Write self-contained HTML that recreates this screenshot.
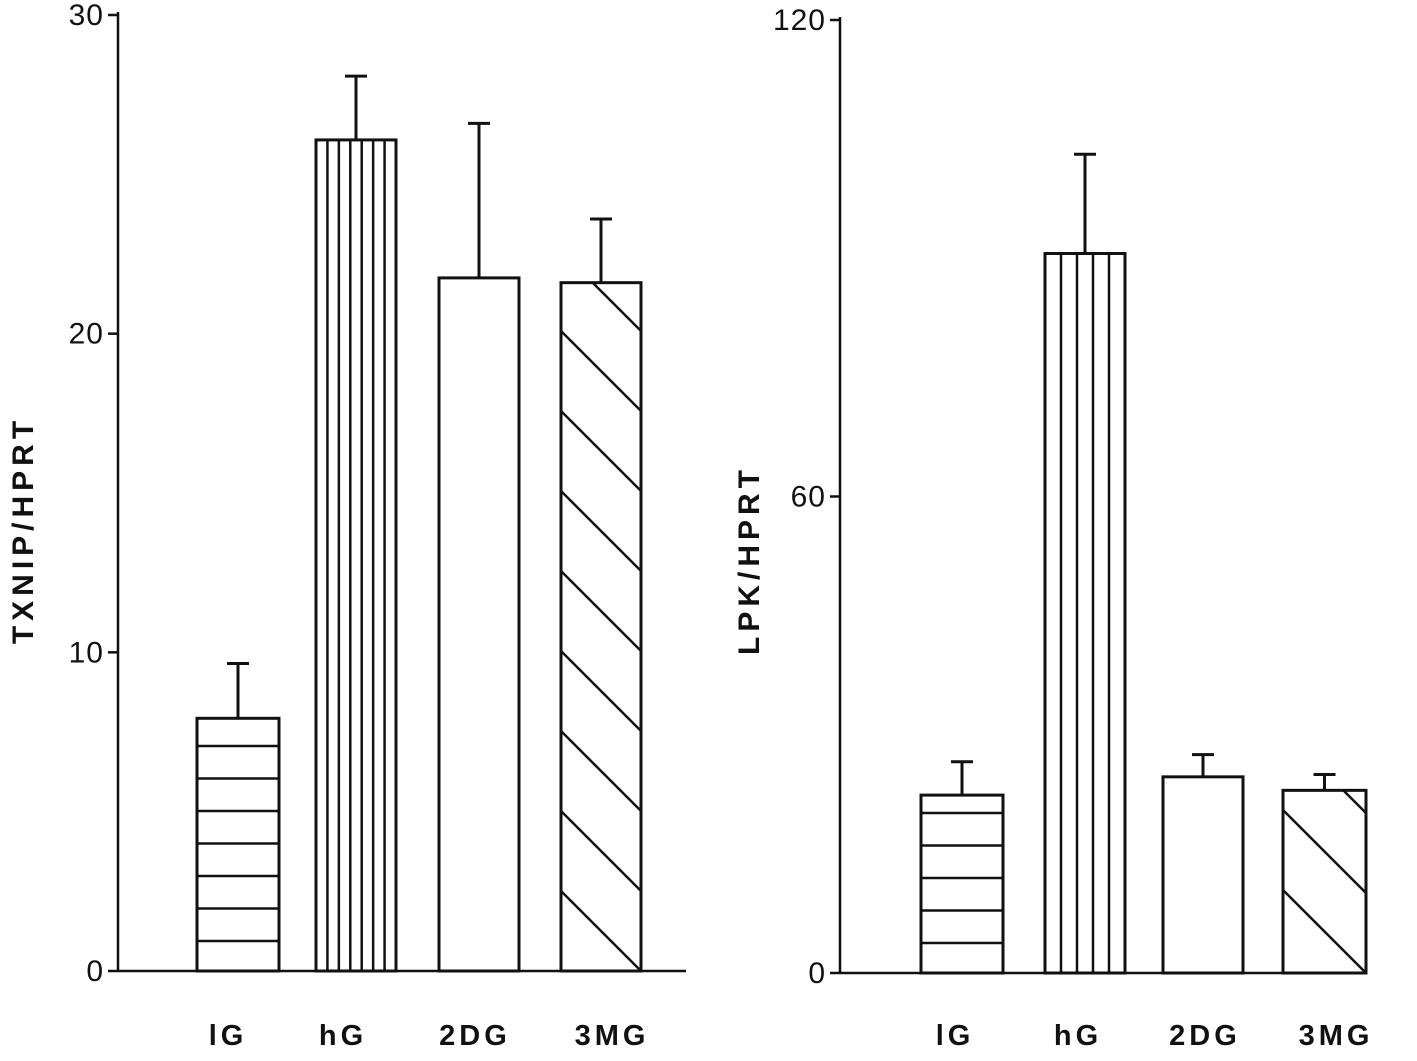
<!DOCTYPE html>
<html><head><meta charset="utf-8"><style>
html,body{margin:0;padding:0;background:#fff;}
svg{display:block;}
text{font-family:"Liberation Sans",sans-serif;font-weight:bold;fill:#111;}
text.tick{font-weight:normal;}
</style></head><body>
<svg id="c" width="1417" height="1061" viewBox="0 0 1417 1061"></svg>
<script>
const categories = ["lG","hG","2DG","3MG"];
const txnipValues = [7.93, 26.08, 21.75, 21.6];
const txnipErrors = [1.72, 2.0, 4.85, 2.0];
const lpkValues = [22.4, 90.6, 24.7, 23.0];
const lpkErrors = [4.2, 12.5, 2.8, 2.0];
const txnipTicks = [0, 10, 20, 30];
const lpkTicks = [0, 60, 120];
const patterns = ["h","v","none","d"];

const NS="http://www.w3.org/2000/svg";
const svg=document.getElementById('c');
function el(tag,attrs,parent){const e=document.createElementNS(NS,tag);for(const k in attrs)e.setAttribute(k,attrs[k]);(parent||svg).appendChild(e);return e;}

const panels=[
 {name:"txnip",values:txnipValues,errors:txnipErrors,ticks:txnipTicks,max:30,ax:118,y0:971,yTop:15,xEnd:686,
  bars:[[197,279],[316,396],[439,519],[561,641]],labelX:[228,343,475,612],title:"TXNIP/HPRT",tx:22,ty:530,vlines:6},
 {name:"lpk",values:lpkValues,errors:lpkErrors,ticks:lpkTicks,max:120,ax:840,y0:973,yTop:20,xEnd:1366,
  bars:[[921,1003],[1045,1125],[1163,1243],[1283,1366]],labelX:[955,1078,1205,1336],title:"LPK/HPRT",tx:748,ty:560,vlines:4}
];
panels.forEach((p,pi)=>{
 const g=el('g',{});
 
 
 const ys=v=>p.y0-(v/p.max)*(p.y0-p.yTop);
 const ax=el('line',{x1:p.ax,y1:p.yTop-3,x2:p.ax,y2:p.y0,stroke:'#111','stroke-width':2.5},g);
 
 
 const xa=el('line',{x1:p.ax,y1:p.y0,x2:p.xEnd,y2:p.y0,stroke:'#111','stroke-width':2.5},g);
 
 
 p.ticks.forEach(t=>{
  const y=ys(t);
  const tl=el('line',{x1:p.ax-10,y1:y,x2:p.ax,y2:y,stroke:'#111','stroke-width':2.5},g);
  
  
  const tt=el('text',{class:'tick',x:p.ax-14,y:y+10,'text-anchor':'end','font-size':30,'letter-spacing':1},g);
  tt.textContent=t;
  
  
 });
 const title=el('text',{x:0,y:0,'text-anchor':'middle','font-size':30,'letter-spacing':5,transform:`translate(${p.tx+11},${p.ty}) rotate(-90)`},g);
 title.textContent=p.title;
 
 
 categories.forEach((c,i)=>{
  const [x1,x2]=p.bars[i];
  const top=ys(p.values[i]);
  const bg=el('g',{},g);
  
  
  const cid='clip'+pi+i;
  const cp=el('clipPath',{id:cid},bg);
  el('rect',{x:x1,y:top,width:x2-x1,height:p.y0-top},cp);
  const pat=el('g',{'clip-path':`url(#${cid})`,stroke:'#111','stroke-width':2.5},bg);
  if(patterns[i]==='h'){for(let y=p.y0-30;y>top+8;y-=32.5)el('line',{x1:x1,y1:y,x2:x2,y2:y},pat);}
  if(patterns[i]==='v'){const n=p.vlines;for(let k=1;k<=n;k++){const x=x1+(x2-x1)*k/(n+1);el('line',{x1:x,y1:top,x2:x,y2:p.y0},pat);}}
  if(patterns[i]==='d'){for(let y=p.y0;y>top-(x2-x1);y-=80)el('line',{x1:x1,y1:y-(x2-x1),x2:x2,y2:y},pat);}
  el('rect',{x:x1,y:top,width:x2-x1,height:p.y0-top,fill:'none',stroke:'#111','stroke-width':3},bg);
  const cx=(x1+x2)/2, et=ys(p.values[i]+p.errors[i]);
  const eb=el('path',{d:`M${cx},${top} V${et} M${cx-11},${et} H${cx+11}`,stroke:'#111','stroke-width':3,fill:'none'},bg);
  
  
  const lt=el('text',{x:p.labelX[i],y:1045,'text-anchor':'middle','font-size':29,'letter-spacing':4},g);
  lt.textContent=c;
  
  
 });
});
</script>
</body></html>
